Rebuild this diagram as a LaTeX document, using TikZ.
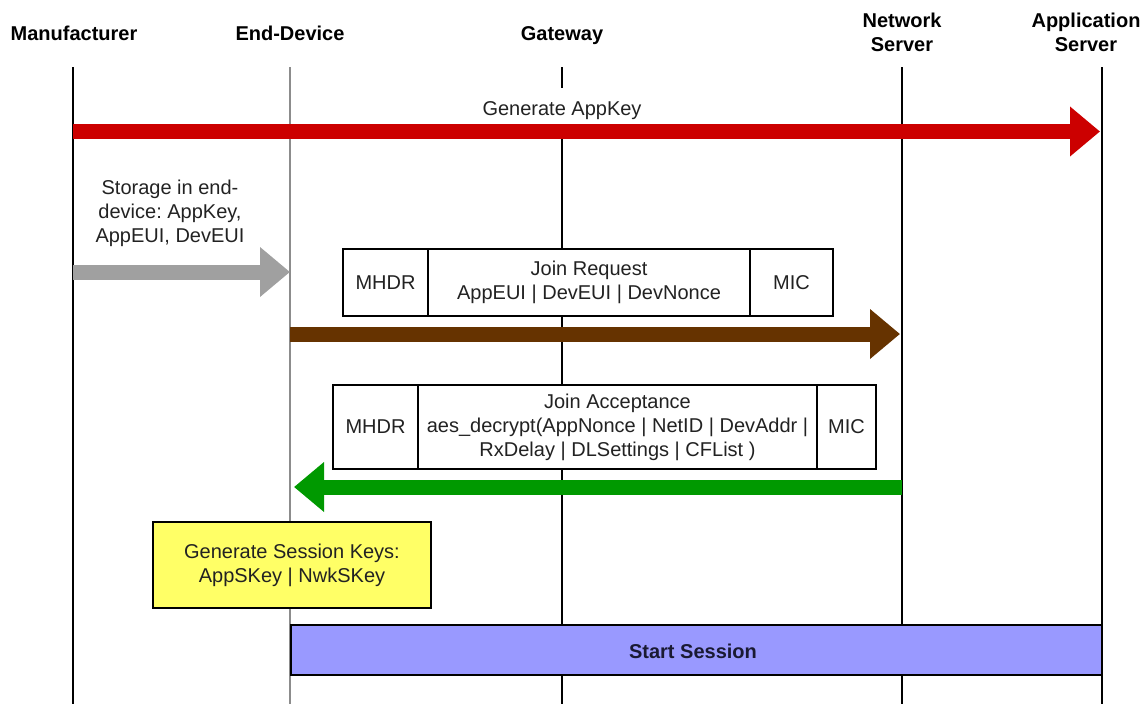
\documentclass[tikz,border=0pt]{standalone}
\usepackage{fontspec}
\setmainfont{Liberation Sans}
\usetikzlibrary{arrows.meta}
\frenchspacing
\definecolor{txt}{HTML}{222222}
\definecolor{redarr}{HTML}{CC0000}
\definecolor{grayarr}{HTML}{A0A0A0}
\definecolor{brownarr}{HTML}{663300}
\definecolor{greenarr}{HTML}{009900}
\definecolor{yellowbox}{HTML}{FFFF66}
\definecolor{bluebox}{HTML}{9999FF}
\definecolor{navy}{HTML}{1A1A33}
\definecolor{lifegray}{HTML}{8C8C8C}
\begin{document}
\begin{tikzpicture}[x=1pt,y=-1pt,
  every node/.style={font=\fontsize{20}{24}\selectfont\frenchspacing, text=txt, inner sep=0pt, align=center},
  header/.style={font=\fontsize{20}{24}\selectfont\bfseries, text=black},
  oneline/.style={text height=14.5pt, text depth=0pt},
  lifeline/.style={line width=1.3pt, draw=black},
  fatarrow/.style={line width=15pt, -{Triangle[length=30pt,width=48pt]}},
  cell/.style={draw=black, line width=1.2pt, fill=white, minimum height=#1, anchor=center},
  label/.style={fill=white}
]
\useasboundingbox (0,0) rectangle (1142,704);

% headers
\node[header, oneline] (hM) at (74,33) {Manufacturer};
\node[header, oneline] (hE) at (290,33) {End-Device};
\node[header, oneline] (hG) at (562,33) {Gateway};
\node[header] (hN) at (902,32) {Network\\Server};
\node[header] (hA) at (1086,32) {Application\\Server};

% lifeline ends
\coordinate (Mt) at (73,67);   \coordinate (Mb) at (73,704);
\coordinate (Et) at (290,67);  \coordinate (Eb) at (290,704);
\coordinate (Gt) at (562,67);  \coordinate (Gb) at (562,704);
\coordinate (Nt) at (902,67);  \coordinate (Nb) at (902,704);
\coordinate (At) at (1102,67); \coordinate (Ab) at (1102,704);

\draw[lifeline] (Mt) -- (Mb);
\draw[lifeline, draw=lifegray] (Et) -- (Eb);
\draw[lifeline] (Gt) -- (Gb);
\draw[lifeline] (Nt) -- (Nb);
\draw[lifeline] (At) -- (Ab);

% Generate AppKey
\node[label, oneline, minimum width=170, minimum height=40] (lGen) at (562,108) {Generate AppKey};
\coordinate (r1) at (73,131.5);
\coordinate (r2) at (1100,131.5);
\draw[fatarrow, draw=redarr, fill=redarr] (r1) -- (r2);

% Storage
\node (lSto) at (170,213) {Storage in end-\\device: AppKey,\\AppEUI, DevEUI};
\coordinate (g1) at (73,272);
\coordinate (g2) at (290,272);
\draw[fatarrow, draw=grayarr, fill=grayarr] (g1) -- (g2);

% Join Request frame
\node[cell=67pt, minimum width=85pt] (jr1) at (385.5,282.5) {MHDR};
\node[cell=67pt, minimum width=322pt] (jr2) at (589,282.5) {Join Request\\AppEUI | DevEUI | DevNonce};
\node[cell=67pt, minimum width=83pt] (jr3) at (791.5,282.5) {MIC};
\coordinate (b1) at (290,334);
\coordinate (b2) at (900,334);
\draw[fatarrow, draw=brownarr, fill=brownarr] (b1) -- (b2);

% Join Acceptance frame
\node[cell=84pt, minimum width=85pt] (ja1) at (375.5,427) {MHDR};
\node[cell=84pt, minimum width=399pt] (ja2) at (617.5,427) {Join Acceptance\\aes\_decrypt(AppNonce | NetID | DevAddr |\\RxDelay | DLSettings | CFList )};
\node[cell=84pt, minimum width=59pt] (ja3) at (846.5,427) {MIC};
\coordinate (gr1) at (902,487);
\coordinate (gr2) at (294,487);
\draw[fatarrow, draw=greenarr, fill=greenarr] (gr1) -- (gr2);

% Session keys
\node[draw=black, line width=1.2pt, fill=yellowbox, minimum width=278pt, minimum height=86pt] (keys) at (292,565) {Generate Session Keys:\\AppSKey | NwkSKey};

% Start Session
\node[draw=black, line width=1.2pt, fill=bluebox, minimum width=811pt, minimum height=50pt] (sess) at (696.5,650) {};
\node[font=\fontsize{20}{24}\selectfont\bfseries, text=navy] (lSess) at (693,651) {Start Session};
\end{tikzpicture}
\end{document}
